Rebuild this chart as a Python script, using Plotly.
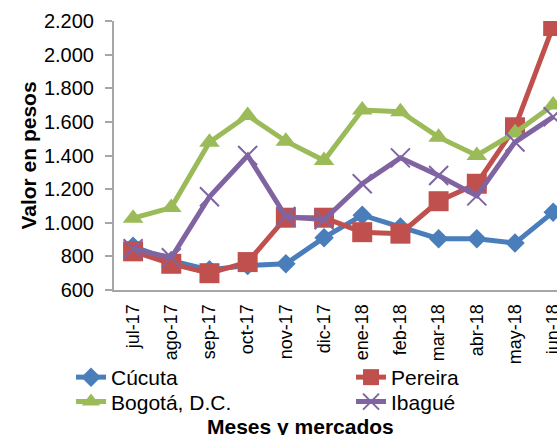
import plotly.graph_objects as go

months = ["jul-17", "ago-17", "sep-17", "oct-17", "nov-17", "dic-17",
          "ene-18", "feb-18", "mar-18", "abr-18", "may-18", "jun-18"]
cucuta = [860, 775, 720, 745, 756, 911, 1045, 975, 905, 905, 879, 1063]
pereira = [830, 756, 700, 766, 1030, 1030, 944, 935, 1128, 1232, 1568, 2170]
bogota = [1027, 1090, 1479, 1638, 1485, 1370, 1670, 1660, 1509, 1400, 1535, 1700]
ibague = [845, 792, 1155, 1400, 1037, 1018, 1232, 1386, 1281, 1160, 1480, 1630]

FONT = "Arial, Liberation Sans, sans-serif"

fig = go.Figure()
fig.add_trace(go.Scatter(x=months, y=cucuta, name="Cúcuta", mode="lines+markers",
                         legend="legend",
                         line=dict(color="#4A7EBB", width=5),
                         marker=dict(symbol="diamond", size=15, color="#4A7EBB")))
fig.add_trace(go.Scatter(x=months, y=pereira, name="Pereira", mode="lines+markers",
                         legend="legend",
                         line=dict(color="#C0504D", width=5),
                         marker=dict(symbol="square", size=20, color="#C0504D")))
fig.add_trace(go.Scatter(x=months, y=bogota, name="Bogotá, D.C.", mode="lines+markers",
                         legend="legend2",
                         line=dict(color="#9BBB59", width=5),
                         marker=dict(symbol="triangle-up", size=18, color="#9BBB59")))
fig.add_trace(go.Scatter(x=months, y=ibague, name="Ibagué", mode="lines+markers",
                         legend="legend2",
                         line=dict(color="#8064A2", width=5),
                         marker=dict(symbol="x-thin", size=19, color="#8064A2",
                                     line=dict(color="#8064A2", width=2))))

legend_common = dict(orientation="h", xref="paper", yref="paper",
                     xanchor="left", yanchor="top",
                     font=dict(size=21, family=FONT, color="black"),
                     entrywidth=235, entrywidthmode="pixels",
                     tracegroupgap=0, bgcolor="rgba(0,0,0,0)")

fig.update_layout(
    width=557, height=435,
    margin=dict(l=114, r=0, t=21, b=145, autoexpand=False),
    paper_bgcolor="white", plot_bgcolor="white",
    separators=",.",
    font=dict(family=FONT, color="black"),
    showlegend=True,
    legend=dict(x=-0.097, y=-0.249, **legend_common),
    legend2=dict(x=-0.097, y=-0.340, **legend_common),
    xaxis=dict(type="category", range=[-0.5, 11.1], showgrid=False, automargin=False,
               showline=True, linecolor="#A6A6A6", linewidth=2,
               ticks="", tickangle=-90, ticklabelstandoff=5,
               tickfont=dict(size=18, family=FONT, color="black")),
    yaxis=dict(range=[600, 2200], dtick=200, tickformat=",.0f", showgrid=False,
               automargin=False,
               zeroline=False, showline=True, linecolor="#A6A6A6", linewidth=2,
               ticks="outside", ticklen=7, tickcolor="#A6A6A6", tickwidth=2,
               ticklabelstandoff=7,
               tickfont=dict(size=20, family=FONT, color="black"),
               title=dict(text="<b>Valor en pesos</b>", standoff=2,
                          font=dict(size=21, family=FONT, color="black"))),
    annotations=[dict(text="<b>Meses y mercados</b>", xref="paper", yref="paper",
                      x=0.422, y=-0.508, xanchor="center", yanchor="middle",
                      showarrow=False, font=dict(size=21, family=FONT, color="black"))],
)

fig.write_html("out.html",
               config={"displayModeBar": False},
               post_script="document.body.style.margin='0';document.body.style.overflow='hidden';")
